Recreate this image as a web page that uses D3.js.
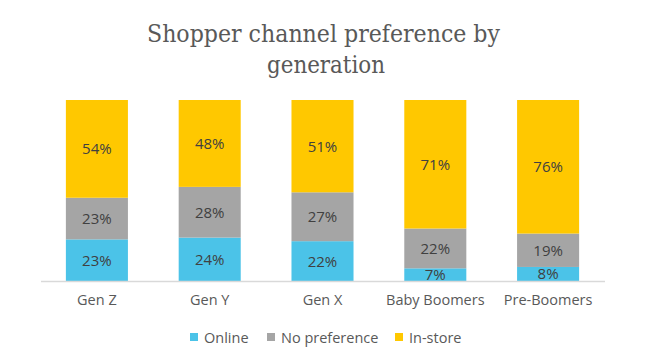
<!DOCTYPE html>
<html><head><meta charset="utf-8">
<script src="https://cdn.jsdelivr.net/npm/d3@7"></script>
<style>body{margin:0;background:#fff}svg{display:block}</style>
</head><body>
<svg id="c" width="645" height="359"></svg>
<script>
const categories = ["Gen Z","Gen Y","Gen X","Baby Boomers","Pre-Boomers"];
const seriesNames = ["Online","No preference","In-store"];
const online = [23,24,22,7,8];
const noPref = [23,28,27,22,19];
const inStore = [54,48,51,71,76];
const colors = ["#4BC3E8","#A5A5A5","#FFC800"];

(function(){
const svg = d3.select("#c");
const mLeft=40.5, mRight=604.5, mTop=100, mBottom=281;

const rows = categories.map((c,i)=>{
  const t = online[i]+noPref[i]+inStore[i];
  return {cat:c, Online:online[i]/t, "No preference":noPref[i]/t, "In-store":inStore[i]/t,
          raw:{Online:online[i],"No preference":noPref[i],"In-store":inStore[i]}};
});
const stack = d3.stack().keys(seriesNames)(rows);
const x = d3.scaleBand().domain(categories).range([mLeft,mRight]).paddingInner(0.45).paddingOuter(0.225);
const y = d3.scaleLinear().domain([0,1]).range([mBottom,mTop]);

svg.append("text").attr("x",323.5).attr("y",42).attr("text-anchor","middle")
  .attr("font-family","DejaVu Serif").attr("font-size",24).attr("fill","#595959")
  .attr("textLength",353).attr("lengthAdjust","spacingAndGlyphs")
  .text("Shopper channel preference by");
svg.append("text").attr("x",326).attr("y",73).attr("text-anchor","middle")
  .attr("font-family","DejaVu Serif").attr("font-size",24).attr("fill","#595959")
  .attr("textLength",118).attr("lengthAdjust","spacingAndGlyphs")
  .text("generation");

const g = svg.append("g");
stack.forEach((s,si)=>{
  g.selectAll(null).data(s).enter().append("rect")
    .attr("x",d=>x(d.data.cat)).attr("width",x.bandwidth())
    .attr("y",d=>y(d[1])).attr("height",d=>y(d[0])-y(d[1]))
    .attr("fill",colors[si]);
  g.selectAll(null).data(s).enter().append("text")
    .attr("x",d=>x(d.data.cat)+x.bandwidth()/2)
    .attr("y",d=>(y(d[0])+y(d[1]))/2+5.5)
    .attr("text-anchor","middle").attr("font-family","Open Sans").attr("font-size",15)
    .attr("fill","#404040")
    .text(d=>d.data.raw[s.key]+"%");
});

const ax = svg.append("g").attr("transform",`translate(0,${mBottom})`)
  .call(d3.axisBottom(x).tickSize(0).tickPadding(14));
ax.select(".domain").attr("stroke","#d9d9d9").attr("stroke-width",1.5);
ax.selectAll("text").attr("font-family","Open Sans").attr("font-size",14.5).attr("fill","#595959");

const legendX=[190,267,395];
const lg = svg.append("g");
seriesNames.forEach((n,i)=>{
  lg.append("rect").attr("x",legendX[i]).attr("y",333).attr("width",8).attr("height",8).attr("fill",colors[i]);
  lg.append("text").attr("x",legendX[i]+14).attr("y",342.5).attr("font-family","Open Sans")
    .attr("font-size",14.5).attr("fill","#595959").text(n);
});
})();
</script>
</body></html>
